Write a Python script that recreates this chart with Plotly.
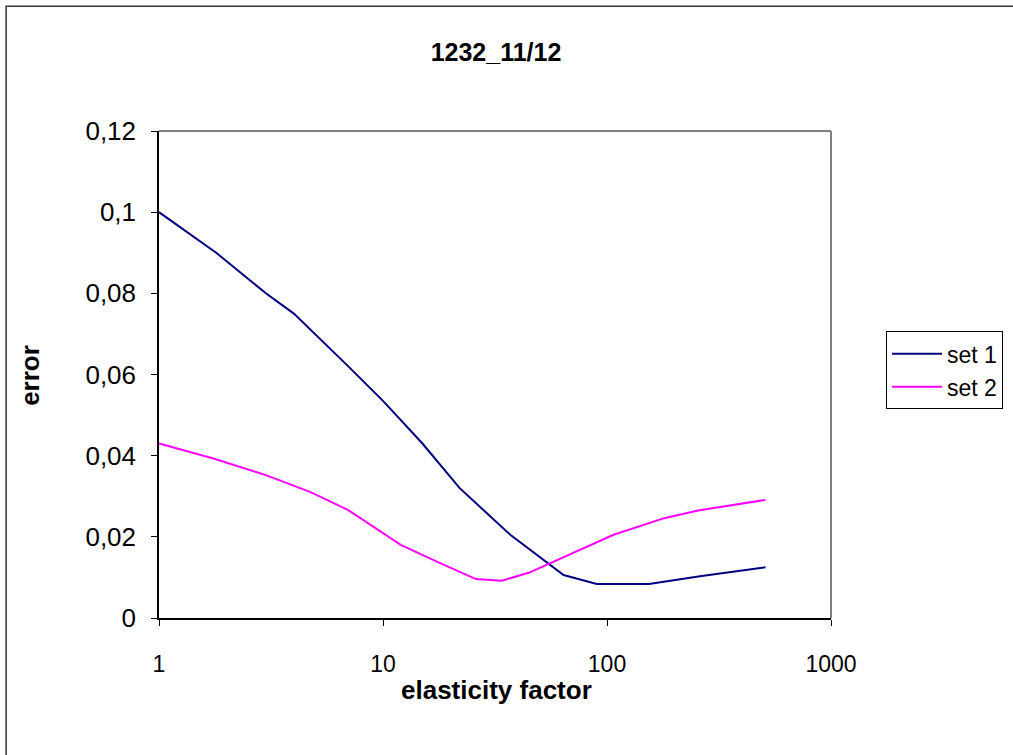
import plotly.graph_objects as go

# Elasticity factor values and error for each set
set1_x = [1, 1.8, 3, 4, 7, 10, 15, 22, 37, 64, 90, 154, 260, 510]
set1_y = [0.1, 0.09, 0.08, 0.075, 0.062, 0.0535, 0.043, 0.032, 0.0205,
          0.0106, 0.0084, 0.0084, 0.0103, 0.0125]

set2_x = [1, 1.75, 3, 4.75, 7, 12, 18, 26, 34, 45, 107, 180, 255, 510]
set2_y = [0.043, 0.0393, 0.0352, 0.031, 0.0266, 0.018, 0.0135, 0.0096,
          0.0092, 0.0112, 0.0205, 0.0246, 0.0265, 0.0291]

series_names = ["set 1", "set 2"]
series_colors = ["#000080", "#FF00FF"]

x_tickvals = [1, 10, 100, 1000]
x_ticktext = ["1", "10", "100", "1000"]
y_tickvals = [0, 0.02, 0.04, 0.06, 0.08, 0.1, 0.12]
y_ticktext = ["0", "0,02", "0,04", "0,06", "0,08", "0,1", "0,12"]

title_text = "1232_11/12"
x_title = "elasticity factor"
y_title = "error"

W, H = 1013, 755
# plot area in pixels
L, R, T, B = 158.5, 831, 130.5, 618
pw, ph = R - L, B - T


def px(xp):
    return (xp - L) / pw


def py(yp):
    return (B - yp) / ph


FONT = "Liberation Sans, Arial, sans-serif"

fig = go.Figure()
for xs, ys, name, color in [(set1_x, set1_y, series_names[0], series_colors[0]),
                            (set2_x, set2_y, series_names[1], series_colors[1])]:
    fig.add_trace(go.Scatter(x=xs, y=ys, mode="lines", name=name,
                             line=dict(color=color, width=2)))

fig.update_layout(
    width=W, height=H,
    margin=dict(l=L, r=W - R, t=T, b=H - B, autoexpand=False),
    paper_bgcolor="white", plot_bgcolor="white",
    font=dict(family=FONT, size=23, color="black"),
    title=dict(text="<b>" + title_text + "</b>", x=496 / W, xanchor="center",
               y=1 - 52 / H, yanchor="middle", font=dict(size=25)),
    showlegend=True,
    legend=dict(x=px(886), y=py(331), xanchor="left", yanchor="top",
                bordercolor="black", borderwidth=1, bgcolor="white",
                font=dict(size=23), tracegroupgap=0, itemwidth=50),
)

fig.update_xaxes(type="log", range=[0, 3], tickvals=x_tickvals, ticktext=x_ticktext,
                 showgrid=False, zeroline=False, showline=True, linecolor="black",
                 linewidth=1.5, ticks="outside", ticklen=6, tickcolor="black",
                 ticklabelstandoff=19, tickfont=dict(size=23))
fig.update_yaxes(range=[0, 0.12], tickvals=y_tickvals, ticktext=y_ticktext,
                 showgrid=False, zeroline=False, showline=True, linecolor="black",
                 linewidth=1.5, ticks="outside", ticklen=6, tickcolor="black",
                 ticklabelstandoff=10, tickfont=dict(size=26))

# Gray top and right edges of the plot area
fig.add_shape(type="line", xref="paper", yref="paper", x0=0, x1=1, y0=1, y1=1,
              line=dict(color="#808080", width=2), layer="below")
fig.add_shape(type="line", xref="paper", yref="paper", x0=1, x1=1, y0=0, y1=1,
              line=dict(color="#808080", width=2), layer="below")
# Outer chart border
fig.add_shape(type="rect", xref="paper", yref="paper",
              x0=px(5.5), x1=px(1025), y0=py(5.5), y1=py(770),
              line=dict(color="#333333", width=1.5), layer="below")

# Axis titles
fig.add_annotation(text="<b>" + x_title + "</b>", xref="paper", yref="paper",
                   x=px(496), y=py(690), showarrow=False, xanchor="center",
                   yanchor="middle", font=dict(size=26))
fig.add_annotation(text="<b>" + y_title + "</b>", xref="paper", yref="paper",
                   x=px(30), y=py(375), showarrow=False, xanchor="center",
                   yanchor="middle", textangle=-90, font=dict(size=26))

fig.write_html("out.html")
